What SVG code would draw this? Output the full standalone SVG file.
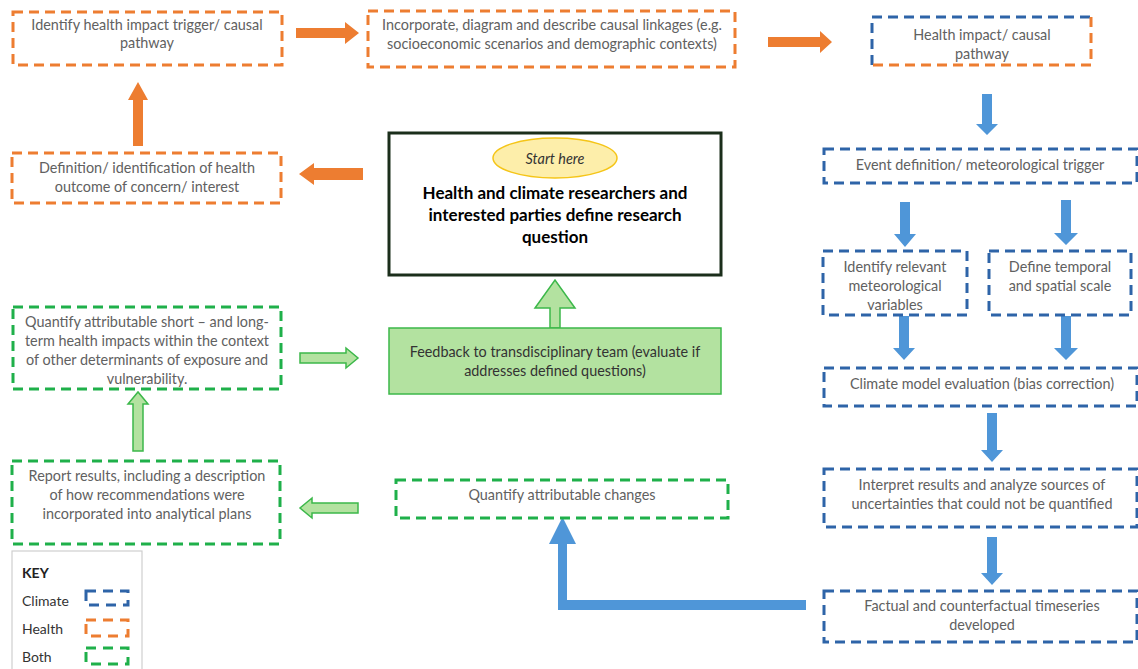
<svg xmlns="http://www.w3.org/2000/svg" width="1138" height="669" viewBox="0 0 1138 669">
<style>
.t{font-family:Lato,"Open Sans",sans-serif;font-size:14.4px;fill:#616161;text-anchor:middle}
.b{fill:none;stroke-width:3;stroke-dasharray:10 6}
.h{stroke:#ed7d31}
.c{stroke:#2e64a8}
.g{stroke:#1fb04a}
.ao{fill:#ed7d31}
.ab{fill:#4f96d8}
.ag{fill:#b3e2a0;stroke:#3cb84a;stroke-width:1.5}
.k{font-family:Lato,sans-serif;font-size:14px;fill:#333}
</style>
<rect width="1138" height="669" fill="#fff"/>
<g id="connectors">
<polygon class="ao" points="296,28 345,28 345,22 359,33 345,44 345,38 296,38"/>
<polygon class="ao" points="768,37 820,37 820,31 832,42 820,53 820,47 768,47"/>
<polygon class="ao" points="363,168 314,168 314,163 299,174 314,185 314,180 363,180"/>
<polygon class="ao" points="133,146 133,100 128,100 138,82 148,100 143,100 143,146"/>
<polygon class="ab" points="982,94 992,94 992,124 998,124 987,135 976,124 982,124"/>
<polygon class="ab" points="900,202 910,202 910,234 916,234 905,247 894,234 900,234"/>
<polygon class="ab" points="1061,200 1071,200 1071,233 1078,233 1066,245 1054,233 1061,233"/>
<polygon class="ab" points="899,316 909,316 909,348 915,348 904,360 893,348 899,348"/>
<polygon class="ab" points="1061,316 1071,316 1071,348 1078,348 1066,360 1054,348 1061,348"/>
<polygon class="ab" points="987,413 997,413 997,450 1003,450 992,462 981,450 987,450"/>
<polygon class="ab" points="987,537 997,537 997,573 1003,573 992,585 981,573 987,573"/>
<polygon class="ab" points="806,600 806,610 558,610 558,544 549,544 562.5,517 576,544 567,544 567,600"/>
<polygon class="ag" points="300,353 346,353 346,348 358,358 346,368 346,363 300,363"/>
<polygon class="ag" points="358,503 312,503 312,498 300,508 312,518 312,513 358,513"/>
<polygon class="ag" points="133,451 133,404 128,404 138,392 148,404 143,404 143,451"/>
<polygon class="ag" points="550,328 550,308 535,308 555,280 575,308 560,308 560,328"/>
</g>
<g id="n-trigger"><rect class="b h" x="13" y="12" width="269" height="53"/>
<text class="t" x="147" y="30">Identify health impact trigger/ causal</text><text class="t" x="147" y="48">pathway</text></g>
<g id="n-incorporate"><rect class="b h" x="368" y="11" width="367" height="56"/>
<text class="t" x="552" y="30">Incorporate, diagram and describe causal linkages (e.g.</text><text class="t" x="552" y="49">socioeconomic scenarios and demographic contexts)</text></g>
<g id="n-impact"><path class="b c" d="M872,65 V17 H1091"/><path class="b h" d="M1091,17 V65 H872"/>
<text class="t" x="982" y="40">Health impact/ causal</text><text class="t" x="982" y="59">pathway</text></g>
<g id="n-definition"><rect class="b h" x="12" y="153" width="269" height="50"/>
<text class="t" x="147" y="173">Definition/ identification of health</text><text class="t" x="147" y="192">outcome of concern/ interest</text></g>
<g id="n-start"><rect x="389" y="133" width="332" height="142" fill="#fff" stroke="#1b2e1b" stroke-width="3"/>
<ellipse cx="555" cy="158" rx="62" ry="20" fill="#fdeeaa" stroke="#f5c518" stroke-width="1.5"/>
<text class="t" x="555" y="164" style="font-style:italic;fill:#333">Start here</text>
<text class="t" x="555" y="199" style="font-weight:bold;font-size:17px;fill:#000">Health and climate researchers and</text>
<text class="t" x="555" y="221" style="font-weight:bold;font-size:17px;fill:#000">interested parties define research</text>
<text class="t" x="555" y="243" style="font-weight:bold;font-size:17px;fill:#000">question</text></g>
<g id="n-event"><rect class="b c" x="824" y="149" width="313" height="34"/>
<text class="t" x="980" y="170">Event definition/ meteorological trigger</text></g>
<g id="n-variables"><rect class="b c" x="823" y="251" width="144" height="64"/>
<text class="t" x="895" y="272">Identify relevant</text><text class="t" x="895" y="291">meteorological</text><text class="t" x="895" y="310">variables</text></g>
<g id="n-scale"><rect class="b c" x="989" y="251" width="142" height="64"/>
<text class="t" x="1060" y="272">Define temporal</text><text class="t" x="1060" y="291">and spatial scale</text></g>
<g id="n-model"><rect class="b c" x="824" y="368" width="313" height="38"/>
<text class="t" x="982" y="389">Climate model evaluation (bias correction)</text></g>
<g id="n-interpret"><rect class="b c" x="824" y="469" width="313" height="58"/>
<text class="t" x="982" y="490">Interpret results and analyze sources of</text><text class="t" x="982" y="509">uncertainties that could not be quantified</text></g>
<g id="n-factual"><rect class="b c" x="824" y="591" width="313" height="51"/>
<text class="t" x="982" y="611">Factual and counterfactual timeseries</text><text class="t" x="982" y="630">developed</text></g>
<g id="n-changes"><rect class="b g" x="396" y="480" width="332" height="38"/>
<text class="t" x="562" y="500">Quantify attributable changes</text></g>
<g id="n-feedback"><rect x="389" y="328" width="332" height="66" fill="#b3e2a0" stroke="#3cb84a" stroke-width="1.5"/>
<text class="t" x="555" y="357" style="fill:#333">Feedback to transdisciplinary team (evaluate if</text><text class="t" x="555" y="376" style="fill:#333">addresses defined questions)</text></g>
<g id="n-quantify"><rect class="b g" x="13" y="307" width="268" height="82"/>
<text class="t" x="147" y="327">Quantify attributable short – and long-</text><text class="t" x="147" y="346">term health impacts within the context</text><text class="t" x="147" y="365">of other determinants of exposure and</text><text class="t" x="147" y="384">vulnerability.</text></g>
<g id="n-report"><rect class="b g" x="12" y="461" width="268" height="83"/>
<text class="t" x="147" y="481">Report results, including a description</text><text class="t" x="147" y="500">of how recommendations were</text><text class="t" x="147" y="519">incorporated into analytical plans</text></g>
<g id="key"><rect x="12" y="551" width="130" height="125" fill="#fff" stroke="#cfcfcf" stroke-width="1.2"/>
<text class="k" x="22" y="578" style="font-weight:bold;fill:#222">KEY</text>
<text class="k" x="22" y="606">Climate</text>
<text class="k" x="22" y="634">Health</text>
<text class="k" x="22" y="662">Both</text>
<rect class="b c" x="86" y="591" width="42" height="14" style="stroke-dasharray:10 7"/>
<rect class="b h" x="86" y="620" width="42" height="16" style="stroke-dasharray:10 7"/>
<rect class="b g" x="86" y="648" width="42" height="16" style="stroke-dasharray:10 7"/>
</g>
</svg>
